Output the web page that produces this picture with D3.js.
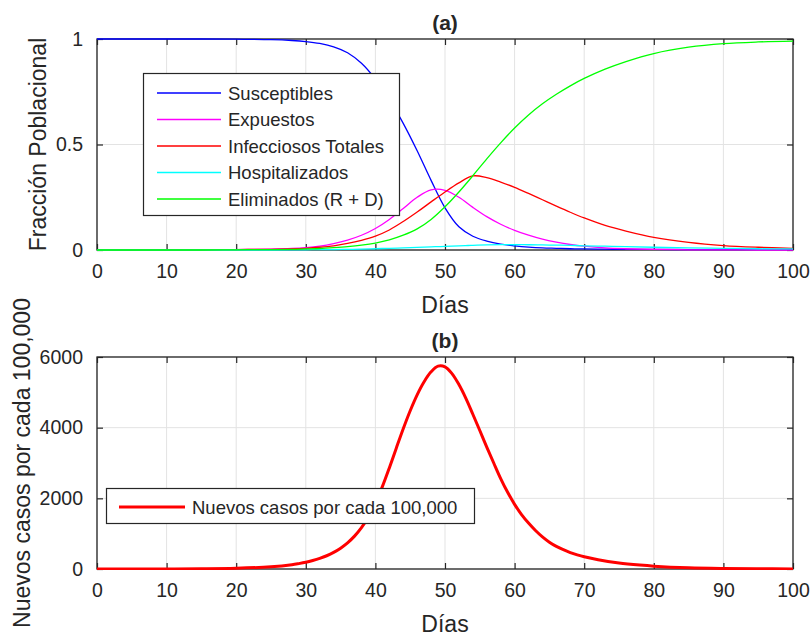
<!DOCTYPE html>
<html>
<head>
<meta charset="utf-8">
<script src="https://cdn.jsdelivr.net/npm/d3@7"></script>
<style>
  html, body { margin: 0; padding: 0; background: #ffffff; }
  svg { display: block; font-family: "Liberation Sans", Arial, Helvetica, sans-serif; }
</style>
</head>
<body>
<svg id="chart" width="811" height="641"></svg>
<script>
// ---- Data: SEIHR model, fractions of the population per day ----
const dias = [0, 5, 10, 15, 20, 25, 28, 30, 32, 34, 36, 38, 40, 42, 44, 46, 48, 50, 52, 54,
              56, 58, 60, 62, 64, 66, 68, 70, 73, 76, 80, 85, 90, 95, 100];
const susceptibles = [1, 1, 1, 1, 0.999, 0.997, 0.993, 0.988, 0.979, 0.963, 0.935, 0.885, 0.81, 0.715, 0.6, 0.47, 0.33, 0.2, 0.11, 0.065,
                      0.042, 0.028, 0.02, 0.014, 0.01, 0.008, 0.006, 0.005, 0.004, 0.003, 0.003, 0.002, 0.002, 0.002, 0.002];
const expuestos = [0, 0.001, 0.001, 0.001, 0.002, 0.004, 0.007, 0.011, 0.018, 0.03, 0.047, 0.07, 0.102, 0.145, 0.197, 0.25, 0.285, 0.283, 0.25, 0.202,
                   0.158, 0.122, 0.093, 0.07, 0.051, 0.037, 0.026, 0.018, 0.01, 0.006, 0.003, 0.001, 0.001, 0, 0];
const infecciosos = [0, 0, 0.001, 0.001, 0.002, 0.003, 0.005, 0.008, 0.013, 0.02, 0.031, 0.046, 0.066, 0.095, 0.135, 0.18, 0.228, 0.275, 0.318, 0.351,
                     0.343, 0.322, 0.297, 0.268, 0.238, 0.208, 0.179, 0.152, 0.117, 0.09, 0.06, 0.036, 0.021, 0.013, 0.008];
const hospitalizados = [0, 0, 0, 0, 0, 0, 0.001, 0.001, 0.002, 0.002, 0.003, 0.004, 0.006, 0.008, 0.01, 0.012, 0.015, 0.017, 0.02, 0.022,
                        0.024, 0.025, 0.025, 0.025, 0.024, 0.023, 0.022, 0.02, 0.018, 0.016, 0.013, 0.01, 0.008, 0.006, 0.005];
const eliminados = [0, 0, 0, 0, 0.001, 0.002, 0.003, 0.005, 0.007, 0.011, 0.016, 0.023, 0.033, 0.048, 0.07, 0.1, 0.145, 0.205, 0.275, 0.352,
                    0.432, 0.508, 0.578, 0.64, 0.693, 0.738, 0.778, 0.813, 0.857, 0.893, 0.931, 0.961, 0.978, 0.986, 0.99];

const seriesNombres = ["Susceptibles", "Expuestos", "Infecciosos Totales", "Hospitalizados", "Eliminados (R + D)"];
const seriesColores = ["#0000ff", "#ff00ff", "#ff0000", "#00ffff", "#00ff00"];

// ---- Data: new cases per 100,000 per day ----
const diasCasos = [0, 5, 10, 15, 20, 25, 28, 29, 30, 31, 32, 33, 34, 35, 36, 37, 38, 39, 40, 41,
                   42, 43, 44, 45, 46, 47, 48, 49, 50, 51, 52, 53, 54, 55, 56, 57, 58, 59, 60, 61,
                   62, 63, 64, 65, 66, 67, 68, 69, 70, 72, 75, 78, 80, 85, 90, 95, 100];
const nuevosCasos = [0, 0, 2, 6, 20, 62, 120, 152, 190, 240, 300, 375, 470, 590, 740, 930, 1170, 1480, 1860, 2330,
                     2860, 3420, 3970, 4480, 4930, 5300, 5580, 5740, 5720, 5530, 5220, 4830, 4380, 3920, 3450, 3000, 2560, 2170, 1830, 1540,
                     1300, 1090, 910, 760, 640, 545, 465, 400, 345, 260, 170, 110, 80, 35, 15, 6, 3];

const xTicks = [0, 10, 20, 30, 40, 50, 60, 70, 80, 90, 100];
const yTicksA = [0, 0.5, 1];
const yTicksB = [0, 2000, 4000, 6000];

// ---- Layout ----
const svg = d3.select("#chart");
const ink = "#262626";
const left = 97, right = 793;
const panelA = { top: 39, bottom: 250 };
const panelB = { top: 357, bottom: 569 };

const x = d3.scaleLinear().domain([0, 100]).range([left, right]);
const yA = d3.scaleLinear().domain([0, 1]).range([panelA.bottom, panelA.top]);
const yB = d3.scaleLinear().domain([0, 6000]).range([panelB.bottom, panelB.top]);

function drawPanel(id, y, yTicks, panel, yFmt, title) {
  const g = svg.append("g");
  const w = right - left, h = panel.bottom - panel.top;

  // grid
  g.append("g").selectAll("line").data(xTicks).join("line")
    .attr("x1", d => x(d)).attr("x2", d => x(d))
    .attr("y1", panel.top).attr("y2", panel.bottom)
    .attr("stroke", "#e3e3e3").attr("stroke-width", 1);
  g.append("g").selectAll("line").data(yTicks).join("line")
    .attr("x1", left).attr("x2", right)
    .attr("y1", d => y(d)).attr("y2", d => y(d))
    .attr("stroke", "#e3e3e3").attr("stroke-width", 1);

  // clip region for the curves
  svg.append("clipPath").attr("id", id).append("rect")
    .attr("x", left).attr("y", panel.top - 1).attr("width", w).attr("height", h + 2);

  // axes with inward ticks on all four sides
  const axB = d3.axisBottom(x).tickValues(xTicks).tickSizeInner(-6).tickSizeOuter(0).tickPadding(14).tickFormat(d3.format("d"));
  const axT = d3.axisTop(x).tickValues(xTicks).tickSizeInner(-6).tickSizeOuter(0).tickFormat("");
  const axL = d3.axisLeft(y).tickValues(yTicks).tickSizeInner(-6).tickSizeOuter(0).tickPadding(14).tickFormat(yFmt);
  const axR = d3.axisRight(y).tickValues(yTicks).tickSizeInner(-6).tickSizeOuter(0).tickFormat("");

  const axes = [
    g.append("g").attr("transform", `translate(0,${panel.bottom})`).call(axB),
    g.append("g").attr("transform", `translate(0,${panel.top})`).call(axT),
    g.append("g").attr("transform", `translate(${left},0)`).call(axL),
    g.append("g").attr("transform", `translate(${right},0)`).call(axR)
  ];
  axes.forEach(a => {
    a.select(".domain").remove();
    a.selectAll(".tick line").attr("stroke", ink).attr("stroke-width", 1.2);
    a.selectAll(".tick text").attr("fill", ink).attr("font-size", 19.5)
      .attr("font-family", "'Liberation Sans', Arial, sans-serif");
  });

  // frame
  g.append("rect").attr("x", left).attr("y", panel.top).attr("width", w).attr("height", h)
    .attr("fill", "none").attr("stroke", ink).attr("stroke-width", 1.3);

  // title
  svg.append("text").attr("x", (left + right) / 2).attr("y", panel.top - 9)
    .attr("text-anchor", "middle").attr("font-size", 21).attr("font-weight", "bold")
    .attr("fill", ink).text(title);

  // x label
  svg.append("text").attr("x", (left + right) / 2).attr("y", panel.bottom + 63)
    .attr("text-anchor", "middle").attr("font-size", 23).attr("fill", ink).text("Días");

  return (panel.top + panel.bottom) / 2;
}

const smooth = d3.curveCatmullRom.alpha(0.5);

// ---- Panel (a) ----
const midA = drawPanel("clipA", yA, yTicksA, panelA, d => d === 0.5 ? "0.5" : d3.format("d")(d), "(a)");
svg.append("text").attr("transform", `translate(46,${midA}) rotate(-90)`)
  .attr("text-anchor", "middle").attr("font-size", 23).attr("fill", ink).text("Fracción Poblacional");

const serieValores = [susceptibles, expuestos, infecciosos, hospitalizados, eliminados];
const lineA = d3.line().x((d, i) => x(dias[i])).y(d => yA(d)).curve(smooth);
const gLinesA = svg.append("g").attr("clip-path", "url(#clipA)");
serieValores.forEach((vals, k) => {
  gLinesA.append("path").datum(vals).attr("d", lineA)
    .attr("fill", "none").attr("stroke", seriesColores[k]).attr("stroke-width", 1.3);
});

// legend (a)
const legA = svg.append("g");
legA.append("rect").attr("x", 143.5).attr("y", 73.5).attr("width", 256).attr("height", 142)
  .attr("fill", "#ffffff").attr("stroke", ink).attr("stroke-width", 1.2);
seriesNombres.forEach((name, k) => {
  const yy = 93 + k * 26.5;
  legA.append("line").attr("x1", 157).attr("x2", 221).attr("y1", yy).attr("y2", yy)
    .attr("stroke", seriesColores[k]).attr("stroke-width", 1.3);
  legA.append("text").attr("x", 228).attr("y", yy + 6.5).attr("font-size", 18.5)
    .attr("fill", ink).text(name);
});

// ---- Panel (b) ----
const midB = drawPanel("clipB", yB, yTicksB, panelB, d3.format("d"), "(b)");
svg.append("text").attr("transform", `translate(30,${midB}) rotate(-90)`)
  .attr("text-anchor", "middle").attr("font-size", 23).attr("fill", ink).text("Nuevos casos por cada 100,000");

const lineB = d3.line().x((d, i) => x(diasCasos[i])).y(d => yB(d)).curve(smooth);
svg.append("g").attr("clip-path", "url(#clipB)").append("path").datum(nuevosCasos).attr("d", lineB)
  .attr("fill", "none").attr("stroke", "#ff0000").attr("stroke-width", 3);

// legend (b)
const legB = svg.append("g");
legB.append("rect").attr("x", 106.5).attr("y", 488.5).attr("width", 368).attr("height", 35)
  .attr("fill", "#ffffff").attr("stroke", ink).attr("stroke-width", 1.2);
legB.append("line").attr("x1", 119).attr("x2", 185).attr("y1", 507).attr("y2", 507)
  .attr("stroke", "#ff0000").attr("stroke-width", 3);
legB.append("text").attr("x", 192).attr("y", 513.5).attr("font-size", 18.5)
  .attr("fill", ink).text("Nuevos casos por cada 100,000");
</script>
</body>
</html>
